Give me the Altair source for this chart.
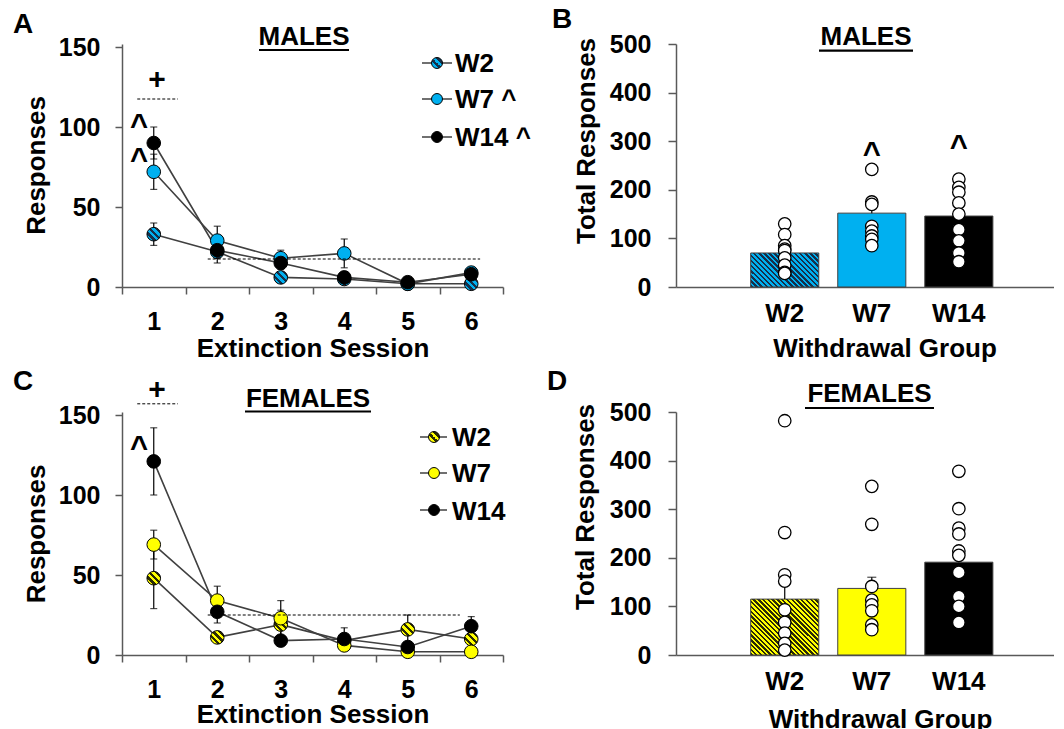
import altair as alt
import pandas as pd

FONT = "Liberation Sans"
BLUE, BLUE_DK = "#00B0F0", "#16304A"
YEL, YEL_DK = "#FFFF00", "#2B2B05"
AX = "#595959"
LN = "#404040"

sessions = [1, 2, 3, 4, 5, 6]
groups = ["W2", "W7", "W14"]

# Males, extinction sessions (mean, SEM)
m_mean_w2 = [33, 22, 6, 5, 2, 2]
m_mean_w7 = [72, 29, 18, 21, 2, 9]
m_mean_w14 = [90, 23, 15, 6, 3, 8]
m_sem_w2 = [7, 4, 2, 1, 1, 1]
m_sem_w7 = [11, 9, 5, 9, 1, 3]
m_sem_w14 = [10, 8, 4, 2, 1, 2]

# Females, extinction sessions (mean, SEM)
f_mean_w2 = [48, 11, 19, 9, 16, 10]
f_mean_w7 = [69, 34, 23, 6, 2, 2]
f_mean_w14 = [121, 27, 9, 10, 5, 18]
f_sem_w2 = [19, 3, 9, 2, 9, 3]
f_sem_w7 = [9, 9, 11, 2, 1, 1]
f_sem_w14 = [21, 7, 3, 7, 3, 6]

# Total responses (mean, SEM) and individual animals
m_total_mean = [70, 152, 146]
m_total_sem = [11, 17, 19]
f_total_mean = [115, 137, 191]
f_total_sem = [40, 23, 30]

m_ind_w2 = [130, 108, 85, 78, 75, 60, 45, 30, 28]
m_ind_w7 = [242, 175, 170, 125, 115, 105, 98, 85]
m_ind_w14 = [222, 205, 195, 173, 150, 118, 95, 70, 52]
f_ind_w2 = [482, 252, 165, 152, 93, 67, 45, 24, 10]
f_ind_w7 = [347, 269, 141, 113, 103, 91, 62, 52]
f_ind_w14 = [378, 301, 261, 249, 214, 205, 170, 120, 100, 67]

# significance annotations (data units)
m_plus = (1.05, 130)
m_bracket = (0.74, 1.38, 117.5)
m_carets = [(0.77, 105), (0.77, 84)]
m_thresh = (1.85, 6.14, 17.5)
f_plus = (1.05, 166)
f_bracket = (0.74, 1.38, 157)
f_carets = [(0.77, 134)]
f_thresh = (1.85, 5.82, 25)
m_bar_carets = [("W7", 288), ("W14", 302)]
f_bar_carets = []

LW, LH = 381, 243
BW, BH = 378, 243
Y_LINE_MAX = 150 * 243 / 240


def stripes(light, dark, n, ratio, frac=0.5):
    s = (ratio + 1) / (ratio ** 2 + 1)
    stops = []
    for k in range(n):
        a, b, c = k / n, (k + frac) / n, (k + 1) / n
        stops += [alt.GradientStop(offset=a, color=dark), alt.GradientStop(offset=b, color=dark),
                  alt.GradientStop(offset=b, color=light), alt.GradientStop(offset=c, color=light)]
    return alt.LinearGradient(gradient="linear", stops=stops, x1=0, y1=1, x2=s * ratio, y2=1 - s)


def one(label=""):
    return alt.Chart(pd.DataFrame({"t": [label]}))


def txt(s, x, y, size=26, align="left"):
    return one(s).mark_text(font=FONT, fontSize=size, fontWeight="bold", align=align,
                            baseline="alphabetic", color="black").encode(
        text="t:N", x=alt.value(x), y=alt.value(y))


def underline(x1, x2, y):
    return one().mark_rule(color="black", strokeWidth=2.2).encode(
        x=alt.value(x1), x2=alt.value(x2), y=alt.value(y))


def deco_layers(d):
    return [txt(d["letter"], d["lx"], d["ly"], size=28),
            txt(d["title"], d["tx"], d["ty"], align="center"),
            underline(d["u1"], d["u2"], d["uy"])]


def line_panel(means, sems, light, dark, legend_labels, plus, bracket, carets, thresh, d):
    rows = []
    for g, ml, sl in zip(groups, means, sems):
        for s, m, e in zip(sessions, ml, sl):
            rows.append({"session": s, "group": g, "mean": m, "lo": m - e, "hi": m + e})
    df = pd.DataFrame(rows)
    xsc = alt.Scale(domain=[0.5, 6.5], nice=False, zero=False)
    ysc = alt.Scale(domain=[0, Y_LINE_MAX], nice=False, zero=True)
    xax = alt.Axis(values=[0.5, 1.5, 2.5, 3.5, 4.5, 5.5, 6.5],
                   labelExpr="datum.value < 6 ? format(datum.value + 0.5, 'd') : ''",
                   labelOffset=LW / 12, labelFlush=False, labelOverlap=False, tickSize=7,
                   labelPadding=15, titleX=LW / 2, titleY=d["xt"], titleBaseline="alphabetic",
                   titleAlign="center", grid=False)
    yax = alt.Axis(values=[0, 50, 100, 150], tickSize=7, labelPadding=15, titleX=-86,
                   titleY=d["yt"], titleAngle=270, titleBaseline="middle", titleAlign="center",
                   grid=False, labelOverlap=False)
    base = alt.Chart(df)
    X = alt.X("session:Q", scale=xsc, axis=xax, title="Extinction Session")
    Y = alt.Y("mean:Q", scale=ysc, axis=yax, title="Responses")
    lines = base.mark_line(color=LN, strokeWidth=1.6).encode(x=X, y=Y, detail="group:N")
    eb = base.transform_filter("datum.hi - datum.lo > 3")
    err = eb.mark_rule(color="black", strokeWidth=1.2).encode(x="session:Q", y="lo:Q", y2="hi:Q")
    cap_hi = eb.mark_tick(color="black", size=7, thickness=1.2, orient="horizontal").encode(
        x="session:Q", y="hi:Q")
    cap_lo = eb.mark_tick(color="black", size=7, thickness=1.2, orient="horizontal").encode(
        x="session:Q", y="lo:Q")
    fills = [stripes(light, dark, 4, 1.0), light, "black"]
    pts = [base.transform_filter(alt.datum.group == g).mark_point(
        shape="circle", filled=True, size=185, fill=f, stroke="black", strokeWidth=1,
        opacity=1).encode(x="session:Q", y="mean:Q") for g, f in zip(groups, fills)]

    rdf = pd.DataFrame({"x": [bracket[0], thresh[0]], "x2": [bracket[1], thresh[1]],
                        "y": [bracket[2], thresh[2]]})
    dash = alt.Chart(rdf).mark_rule(color="black", strokeWidth=1, strokeDash=[3, 2]).encode(
        x="x:Q", x2="x2:Q", y="y:Q")
    pdf = pd.DataFrame({"x": [plus[0]], "y": [plus[1]], "t": ["+"]})
    plus_t = alt.Chart(pdf).mark_text(font=FONT, fontSize=30, fontWeight="bold",
                                      baseline="alphabetic", dy=10, color="black").encode(
        x="x:Q", y="y:Q", text="t:N")
    cdf = pd.DataFrame({"x": [c[0] for c in carets], "y": [c[1] for c in carets],
                        "t": ["^"] * len(carets)})
    caret_t = alt.Chart(cdf).mark_text(font=FONT, fontSize=31, fontWeight="bold",
                                       baseline="alphabetic", dy=17, color="black").encode(
        x="x:Q", y="y:Q", text="t:N")

    leg = []
    lfills = [stripes(light, dark, 3, 1.0), light, "black"]
    for i, (lab, f) in enumerate(zip(legend_labels, lfills)):
        ym, yb = d["leg_my"][i], d["leg_by"][i]
        leg += [one(lab).mark_rule(color=LN, strokeWidth=1.5).encode(
                    x=alt.value(d["leg_r1"]), x2=alt.value(d["leg_r2"]), y=alt.value(ym)),
                one(lab).mark_point(shape="circle", filled=True, size=120, fill=f, stroke="black",
                                    strokeWidth=1, opacity=1).encode(
                    x=alt.value(d["leg_mx"]), y=alt.value(ym)),
                one(lab).mark_text(font=FONT, fontSize=26, fontWeight="bold", align="left",
                                   baseline="alphabetic", color="black").encode(
                    text="t:N", x=alt.value(d["leg_tx"]), y=alt.value(yb))]

    return alt.layer(lines, err, cap_hi, cap_lo, *pts, dash, plus_t, caret_t, *leg,
                     *deco_layers(d)).properties(width=LW, height=LH)


def bar_panel(tot_mean, tot_sem, inds, light, dark, nstripe, carets, d):
    bdf = pd.DataFrame({"group": groups, "mean": tot_mean,
                        "hi": [m + s for m, s in zip(tot_mean, tot_sem)]})
    idf = pd.DataFrame([{"group": g, "value": v} for g, vals in zip(groups, inds) for v in vals])
    xsc = alt.Scale(domain=groups, paddingInner=0.218, paddingOuter=0.78, align=0.55)
    ysc = alt.Scale(domain=[0, 500], nice=False)
    xax = alt.Axis(labelAngle=0, ticks=False, tickSize=0, labelPadding=13, titleX=d["xtx"],
                   titleY=d["xt"], titleBaseline="alphabetic", titleAlign="center", grid=False,
                   labelFontSize=26)
    yax = alt.Axis(values=[0, 100, 200, 300, 400, 500], tickSize=8, labelPadding=17,
                   titleX=d["ytx"], titleY=d["yt"], titleAngle=270, titleBaseline="middle",
                   titleAlign="center", grid=False, labelOverlap=False)
    X = alt.X("group:N", scale=xsc, axis=xax, title="Withdrawal Group")
    Y = alt.Y("mean:Q", scale=ysc, axis=yax, title="Total Responses")
    bandwidth = 68
    h0 = tot_mean[0] / 500 * BH
    fills = [stripes(light, dark, nstripe, bandwidth / h0), light, "black"]
    bars = []
    for i, (g, f) in enumerate(zip(groups, fills)):
        c = alt.Chart(bdf).transform_filter(alt.datum.group == g).mark_bar(
            fill=f, stroke=LN, strokeWidth=1, opacity=1)
        if i == 0:
            bars.append(c.encode(x=X, y=Y))
        else:
            bars.append(c.encode(x="group:N", y="mean:Q"))
    err = alt.Chart(bdf).mark_rule(color="black", strokeWidth=1.2).encode(
        x="group:N", y="mean:Q", y2="hi:Q")
    cap = alt.Chart(bdf).mark_tick(color="black", size=9, thickness=1.2,
                                   orient="horizontal").encode(x="group:N", y="hi:Q")
    dots = alt.Chart(idf).mark_point(shape="circle", filled=True, size=155, fill="white",
                                     stroke="black", strokeWidth=1.3, opacity=1).encode(
        x="group:N", y="value:Q")
    layers = bars + [err, cap, dots]
    if carets:
        kdf = pd.DataFrame({"group": [c[0] for c in carets], "y": [c[1] for c in carets],
                            "t": ["^"] * len(carets)})
        layers.append(alt.Chart(kdf).mark_text(font=FONT, fontSize=31, fontWeight="bold",
                                               baseline="alphabetic", dy=17, color="black").encode(
            x="group:N", y="y:Q", text="t:N"))
    return alt.layer(*layers, *deco_layers(d)).properties(width=BW, height=BH)


dA = dict(letter="A", lx=-109, ly=-11, title="MALES", tx=182, ty=1, u1=137, u2=227, uy=6,
          leg_my=[19, 55, 93], leg_by=[28, 64, 102], leg_r1=300, leg_r2=330, leg_mx=315,
          leg_tx=333, yt=121, xt=69)
dC = dict(letter="C", lx=-109, ly=-22, title="FEMALES", tx=186, ty=-5, u1=123, u2=249, uy=-0.5,
          leg_my=[25, 61, 98], leg_by=[34, 70, 108], leg_r1=298, leg_r2=325, leg_mx=312,
          leg_tx=330, yt=121.5, xt=67)
dB = dict(letter="B", lx=-124, ly=-16, title="MALES", tx=190, ty=1, u1=143, u2=237, uy=6.7,
          yt=96.5, ytx=-90, xt=69, xtx=208.5)
dD = dict(letter="D", lx=-129, ly=-22, title="FEMALES", tx=193.5, ty=-10, u1=129, u2=258, uy=-4,
          yt=94.5, ytx=-91, xt=72, xtx=204)

A = line_panel([m_mean_w2, m_mean_w7, m_mean_w14], [m_sem_w2, m_sem_w7, m_sem_w14],
               BLUE, BLUE_DK, ["W2", "W7 ^", "W14 ^"], m_plus, m_bracket, m_carets, m_thresh, dA)
C = line_panel([f_mean_w2, f_mean_w7, f_mean_w14], [f_sem_w2, f_sem_w7, f_sem_w14],
               YEL, YEL_DK, ["W2", "W7", "W14"], f_plus, f_bracket, f_carets, f_thresh, dC)
B = bar_panel(m_total_mean, m_total_sem, [m_ind_w2, m_ind_w7, m_ind_w14], BLUE, BLUE_DK, 20,
              m_bar_carets, dB)
D = bar_panel(f_total_mean, f_total_sem, [f_ind_w2, f_ind_w7, f_ind_w14], YEL, YEL_DK, 26,
              f_bar_carets, dD)

chart = alt.concat(A, B, C, D, columns=2, spacing={"row": 125, "column": 173},
                   bounds="flush").properties(
    padding={"left": 5, "top": -2, "right": 0, "bottom": 0}, background="white"
).configure_view(stroke=None).configure_axis(
    labelFont=FONT, titleFont=FONT, labelFontSize=25, titleFontSize=26,
    labelFontWeight="bold", titleFontWeight="bold", labelColor="black", titleColor="black",
    domainColor=AX, tickColor=AX, domainWidth=1.5, tickWidth=1.5, grid=False)

chart.save("out.html", embed_options={"renderer": "svg", "actions": False})
